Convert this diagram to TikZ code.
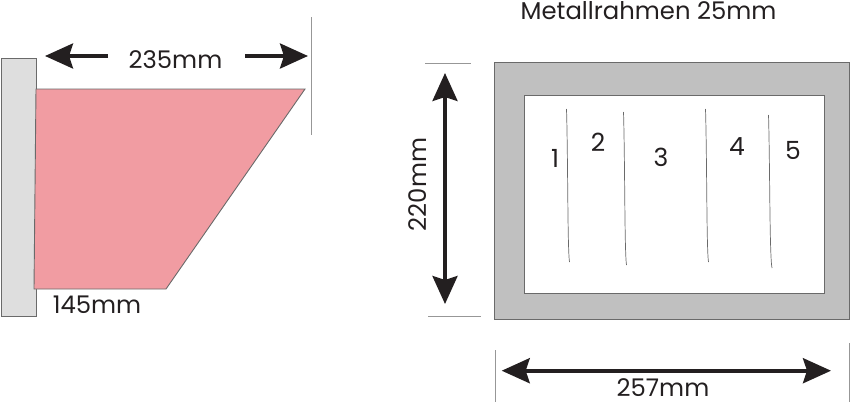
\documentclass[tikz,border=0pt]{standalone}
\usepackage{fontspec}
\setmainfont{Poppins}
\usetikzlibrary{arrows.meta}
\definecolor{wallgray}{HTML}{DEDEDE}
\definecolor{framegray}{HTML}{C0C0C0}
\definecolor{pinkfill}{HTML}{F19CA2}
\definecolor{edgegray}{HTML}{6A6A6A}
\definecolor{inkblack}{HTML}{231F20}
\tikzset{
  shapeline/.style={draw=edgegray,line width=0.9pt},
  ticklin/.style={draw=edgegray!70,line width=1pt},
  dimarrow/.style={draw=inkblack,line width=3.6pt,{Stealth[length=28pt,width=25pt,inset=4pt]}-{Stealth[length=28pt,width=25pt,inset=4pt]}},
  dimhalf/.style={draw=inkblack,line width=3.6pt,-{Stealth[length=28pt,width=25pt,inset=4pt]}},
  handline/.style={draw=edgegray,line width=0.7pt},
  lbl/.style={text=inkblack,font=\fontsize{24.3}{24.3}\selectfont,inner sep=0pt},
  num/.style={text=inkblack,font=\fontsize{25}{25}\selectfont,inner sep=0pt}
}
\begin{document}
\begin{tikzpicture}[x=1pt,y=-1pt]
\useasboundingbox (0,0) rectangle (850,402);
% side view
\path[shapeline,fill=wallgray] (1,58) rectangle (36,316);
\path[shapeline,fill=pinkfill] (36,89) -- (305,89) -- (166,289) -- (34,289) -- cycle;
\coordinate (t1) at (311,17); \coordinate (t2) at (311,135);
\draw[ticklin] (t1) -- (t2);
\node[lbl] (w235) at (175.5,60) {235mm};
\coordinate (a1s) at (108,56); \coordinate (a1e) at (45,56);
\coordinate (a2s) at (245,56); \coordinate (a2e) at (308,56);
\draw[dimhalf] (a1s) -- (a1e);
\draw[dimhalf] (a2s) -- (a2e);
\node[lbl] (w145) at (97,305) {145mm};
% front view
\node[lbl] (title) at (648.5,11) {Metallrahmen 25mm};
\path[shapeline,fill=framegray] (494.7,62) rectangle (849.5,319);
\path[shapeline,fill=white] (524.5,95.7) rectangle (824,293);
\draw[handline] (566.5,109) .. controls (568,160) and (567.5,250) .. (569.5,262);
\draw[handline] (623.5,112) .. controls (625,163) and (624.5,253) .. (626.5,265);
\draw[handline] (705.5,109) .. controls (707,160) and (706.5,250) .. (708.5,262);
\draw[handline] (768.5,115) .. controls (770,166) and (769.5,256) .. (772,268);
\node[num] (n1) at (555,158) {1};
\node[num] (n2) at (598,142) {2};
\node[num] (n3) at (661,157) {3};
\node[num] (n4) at (737,147) {4};
\node[num] (n5) at (793,150) {5};
% height dimension
\coordinate (h1a) at (425,63.5); \coordinate (h1b) at (471,63.5);
\coordinate (h2a) at (428,316); \coordinate (h2b) at (481,316);
\draw[ticklin] (h1a) -- (h1b);
\draw[ticklin] (h2a) -- (h2b);
\coordinate (ht) at (445,73); \coordinate (hb) at (445,304);
\draw[dimarrow] (ht) -- (hb);
\node[lbl,rotate=90] (h220) at (418,184.5) {220mm};
% width dimension
\coordinate (v1a) at (495,350); \coordinate (v1b) at (495,402);
\coordinate (v2a) at (849,343); \coordinate (v2b) at (849,402);
\draw[ticklin] (v1a) -- (v1b);
\draw[ticklin] (v2a) -- (v2b);
\coordinate (wl) at (501.7,370.7); \coordinate (wr) at (831,370.7);
\draw[dimarrow] (wl) -- (wr);
\node[lbl] (w257) at (663,388) {257mm};
\end{tikzpicture}
\end{document}
